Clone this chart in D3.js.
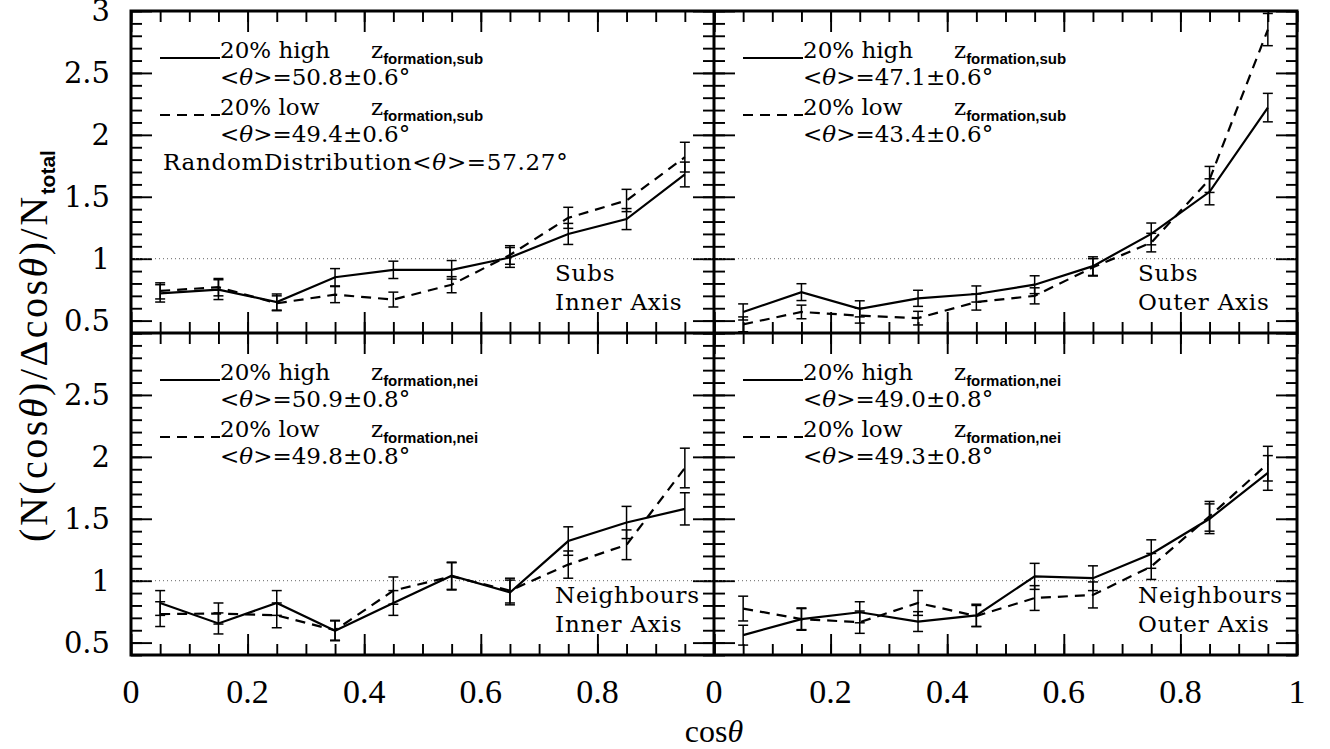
<!DOCTYPE html>
<html>
<head>
<meta charset="utf-8">
<script src="https://cdn.jsdelivr.net/npm/d3@7"></script>
<style>
  body { margin: 0; background: #fff; }
  svg { display: block; }
</style>
</head>
<body>
<svg id="chart" width="1330" height="749"></svg>
<script>
// bin centres in cos(theta)
var cosBins = [0.05, 0.15, 0.25, 0.35, 0.45, 0.55, 0.65, 0.75, 0.85, 0.95];

// subhaloes, inner axis
var subsInnerHigh    = [0.72, 0.75, 0.65, 0.85, 0.91, 0.91, 1.01, 1.20, 1.32, 1.68];
var subsInnerHighErr = [0.07, 0.08, 0.065, 0.07, 0.07, 0.075, 0.08, 0.085, 0.085, 0.10];
var subsInnerLow     = [0.74, 0.77, 0.64, 0.71, 0.67, 0.79, 1.03, 1.33, 1.47, 1.82];
var subsInnerLowErr  = [0.065, 0.07, 0.06, 0.065, 0.06, 0.065, 0.075, 0.085, 0.09, 0.12];

// subhaloes, outer axis
var subsOuterHigh    = [0.57, 0.73, 0.595, 0.68, 0.715, 0.79, 0.94, 1.20, 1.54, 2.22];
var subsOuterHighErr = [0.065, 0.068, 0.065, 0.065, 0.065, 0.072, 0.075, 0.088, 0.105, 0.115];
var subsOuterLow     = [0.47, 0.57, 0.54, 0.52, 0.65, 0.70, 0.93, 1.13, 1.64, 2.85];
var subsOuterLowErr  = [0.06, 0.055, 0.06, 0.055, 0.065, 0.065, 0.07, 0.075, 0.105, 0.13];

// neighbours, inner axis
var neiInnerHigh    = [0.82, 0.655, 0.82, 0.595, 0.82, 1.04, 0.905, 1.32, 1.47, 1.58];
var neiInnerHighErr = [0.10, 0.085, 0.10, 0.08, 0.10, 0.11, 0.10, 0.115, 0.13, 0.13];
var neiInnerLow     = [0.73, 0.735, 0.72, 0.60, 0.92, 1.035, 0.92, 1.13, 1.29, 1.91];
var neiInnerLowErr  = [0.10, 0.085, 0.10, 0.08, 0.11, 0.11, 0.10, 0.11, 0.12, 0.16];

// neighbours, outer axis
var neiOuterHigh    = [0.56, 0.69, 0.745, 0.67, 0.72, 1.035, 1.02, 1.215, 1.50, 1.87];
var neiOuterHighErr = [0.08, 0.09, 0.085, 0.08, 0.09, 0.105, 0.10, 0.115, 0.12, 0.14];
var neiOuterLow     = [0.775, 0.69, 0.665, 0.82, 0.715, 0.86, 0.885, 1.115, 1.52, 1.945];
var neiOuterLowErr  = [0.10, 0.085, 0.09, 0.10, 0.085, 0.10, 0.105, 0.105, 0.12, 0.14];

// legend / annotation text, panel order TL, TR, BL, BR
var highMeans = ['50.8\u00b10.6', '47.1\u00b10.6', '50.9\u00b10.8', '49.0\u00b10.8'];
var lowMeans  = ['49.4\u00b10.6', '43.4\u00b10.6', '49.8\u00b10.8', '49.3\u00b10.8'];
var subLabels = ['formation,sub', 'formation,sub', 'formation,nei', 'formation,nei'];
var tagTop    = ['Subs', 'Subs', 'Neighbours', 'Neighbours'];
var tagBottom = ['Inner Axis', 'Outer Axis', 'Inner Axis', 'Outer Axis'];
var randomMean = '57.27';

var yTickLabelsTop    = [0.5, 1, 1.5, 2, 2.5, 3];
var yTickLabelsBottom = [0.5, 1, 1.5, 2, 2.5];
var xTickLabelsLeft   = [0, 0.2, 0.4, 0.6, 0.8];
var xTickLabelsRight  = [0, 0.2, 0.4, 0.6, 0.8, 1];

var panels = [
	{col: 0, row: 0, high: subsInnerHigh, highErr: subsInnerHighErr, low: subsInnerLow, lowErr: subsInnerLowErr},
	{col: 1, row: 0, high: subsOuterHigh, highErr: subsOuterHighErr, low: subsOuterLow, lowErr: subsOuterLowErr},
	{col: 0, row: 1, high: neiInnerHigh, highErr: neiInnerHighErr, low: neiInnerLow, lowErr: neiInnerLowErr},
	{col: 1, row: 1, high: neiOuterHigh, highErr: neiOuterHighErr, low: neiOuterLow, lowErr: neiOuterLowErr}
];

var frameLeft = 131, frameTop = 11, pw = 583, ph = 322;
var serif = '"DejaVu Serif", serif';
var svg = d3.select('#chart');

panels.forEach(function(p, i) { drawPanel(p, i); });
drawFrame();
drawAxisLabels();

function drawPanel(p, i) {
	var l = frameLeft + p.col * pw, t = frameTop + p.row * ph, b = t + ph, r = l + pw;
	var x = d3.scaleLinear().domain([0, 1]).range([l, r]);
	var y = d3.scaleLinear().domain([0.4, 3]).range([b, t]);
	var g = svg.append('g');

	addTicks(g, x, y, l, r, t, b);

	g.append('line')
		.attr('x1', x(0)).attr('x2', x(1))
		.attr('y1', y(1)).attr('y2', y(1))
		.attr('stroke', '#666').attr('stroke-width', 1)
		.attr('stroke-dasharray', '1,3');

	var series = [
		{v: p.high, e: p.highErr, dash: null},
		{v: p.low, e: p.lowErr, dash: '10,7'}
	];
	var line = d3.line()
		.x(function(d, k) { return x(cosBins[k]); })
		.y(function(d) { return y(d); });

	series.forEach(function(s) {
		var eg = g.append('g').attr('stroke', '#000').attr('stroke-width', 1.5);
		s.v.forEach(function(v, k) {
			var cx = x(cosBins[k]), y0 = y(v - s.e[k]), y1 = y(v + s.e[k]);
			eg.append('line').attr('x1', cx).attr('x2', cx).attr('y1', y0).attr('y2', y1);
			eg.append('line').attr('x1', cx - 5).attr('x2', cx + 5).attr('y1', y0).attr('y2', y0);
			eg.append('line').attr('x1', cx - 5).attr('x2', cx + 5).attr('y1', y1).attr('y2', y1);
		});
		g.append('path')
			.datum(s.v)
			.attr('d', line)
			.attr('fill', 'none')
			.attr('stroke', '#000')
			.attr('stroke-width', 2.2)
			.attr('stroke-dasharray', s.dash);
	});

	// legend
	var lg = g.append('g').style('font-family', serif).style('font-size', '23px');
	lg.append('line').attr('x1', l + 29).attr('x2', l + 89).attr('y1', t + 47).attr('y2', t + 47)
		.attr('stroke', '#000').attr('stroke-width', 2.2);
	lg.append('line').attr('x1', l + 29).attr('x2', l + 89).attr('y1', t + 104).attr('y2', t + 104)
		.attr('stroke', '#000').attr('stroke-width', 2.2).attr('stroke-dasharray', '10,7');
	lg.append('text').attr('x', l + 89).attr('y', t + 47).text('20% high');
	lg.append('text').attr('x', l + 89).attr('y', t + 104).text('20% low');
	[t + 47, t + 104].forEach(function(yy) {
		var zt = lg.append('text').attr('x', l + 240).attr('y', yy);
		zt.append('tspan').text('z');
		zt.append('tspan').attr('dy', 6)
			.style('font-family', '"Liberation Sans", Arial, sans-serif')
			.style('font-weight', 'bold').style('font-size', '15px')
			.text(subLabels[i]);
	});
	meanText(lg, l + 89, t + 74, highMeans[i]);
	meanText(lg, l + 89, t + 131, lowMeans[i]);
	if (i === 0) {
		var rt = lg.append('text').attr('x', l + 32).attr('y', t + 159)
			.style('letter-spacing', '0.7px');
		rt.append('tspan').text('RandomDistribution<');
		rt.append('tspan').style('font-style', 'italic').text('\u03b8');
		rt.append('tspan').text('>=' + randomMean + '\u00b0');
	}

	var tg = g.append('g').style('font-family', serif).style('font-size', '23px')
		.style('letter-spacing', '0.8px');
	tg.append('text').attr('x', l + 424).attr('y', b - 52).text(tagTop[i]);
	tg.append('text').attr('x', l + 424).attr('y', b - 23).text(tagBottom[i]);

	// tick labels
	if (p.col === 0) {
		var yl = p.row === 0 ? yTickLabelsTop : yTickLabelsBottom;
		g.append('g').selectAll('text').data(yl).enter().append('text')
			.attr('x', l - 21).attr('y', function(d) { return y(d); })
			.attr('dy', '0.36em')
			.attr('text-anchor', 'end')
			.style('font-family', serif).style('font-size', '29px')
			.text(function(d) { return String(d); });
	}
	if (p.row === 1) {
		var xl = p.col === 0 ? xTickLabelsLeft : xTickLabelsRight;
		g.append('g').selectAll('text').data(xl).enter().append('text')
			.attr('x', function(d) { return x(d); }).attr('y', b + 48)
			.attr('text-anchor', 'middle')
			.style('font-family', '"Liberation Serif", serif').style('font-size', '34px')
			.text(function(d) { return String(d); });
	}
}

function meanText(g, xx, yy, val) {
	var tx = g.append('text').attr('x', xx).attr('y', yy);
	tx.append('tspan').text('<');
	tx.append('tspan').style('font-style', 'italic').text('\u03b8');
	tx.append('tspan').text('>=' + val + '\u00b0');
}

function addTicks(g, x, y, l, r, t, b) {
	var xMajor = [0, 0.2, 0.4, 0.6, 0.8, 1];
	var xMinor = d3.range(0, 21).map(function(k) { return k * 0.05; });
	var yMajor = [0.5, 1, 1.5, 2, 2.5, 3];
	var yMinor = d3.range(4, 31).map(function(k) { return k / 10; });
	var tk = g.append('g');
	[[xMinor, 11], [xMajor, 21]].forEach(function(s) {
		tk.append('g').attr('transform', 'translate(0,' + b + ')')
			.call(d3.axisBottom(x).tickValues(s[0]).tickSize(-s[1]).tickFormat(''));
		tk.append('g').attr('transform', 'translate(0,' + t + ')')
			.call(d3.axisTop(x).tickValues(s[0]).tickSize(-s[1]).tickFormat(''));
	});
	[[yMinor, 11], [yMajor, 21]].forEach(function(s) {
		tk.append('g').attr('transform', 'translate(' + l + ',0)')
			.call(d3.axisLeft(y).tickValues(s[0]).tickSize(-s[1]).tickFormat(''));
		tk.append('g').attr('transform', 'translate(' + r + ',0)')
			.call(d3.axisRight(y).tickValues(s[0]).tickSize(-s[1]).tickFormat(''));
	});
	tk.selectAll('.domain').remove();
	tk.selectAll('.tick line').attr('stroke', '#000').attr('stroke-width', 1.9);
}

function drawFrame() {
	var f = svg.append('g').attr('fill', 'none').attr('stroke', '#000').attr('stroke-width', 3);
	f.append('rect').attr('x', frameLeft).attr('y', frameTop).attr('width', 2 * pw).attr('height', 2 * ph);
	f.append('line').attr('x1', frameLeft + pw).attr('x2', frameLeft + pw).attr('y1', frameTop).attr('y2', frameTop + 2 * ph);
	f.append('line').attr('x1', frameLeft).attr('x2', frameLeft + 2 * pw).attr('y1', frameTop + ph).attr('y2', frameTop + ph);
}

function drawAxisLabels() {
	var xt = svg.append('text')
		.attr('x', frameLeft + pw).attr('y', 742)
		.attr('text-anchor', 'middle')
		.style('font-family', '"Liberation Serif", serif').style('font-size', '32px');
	xt.append('tspan').text('cos');
	xt.append('tspan').style('font-style', 'italic').text('\u03b8');

	var yt = svg.append('text')
		.attr('transform', 'translate(47,346) rotate(-90)')
		.attr('text-anchor', 'middle')
		.style('font-family', '"Liberation Serif", serif').style('font-size', '40px')
		.style('letter-spacing', '2.5px');
	yt.append('tspan').text('(N(cos');
	yt.append('tspan').style('font-style', 'italic').text('\u03b8');
	yt.append('tspan').text(')/\u0394cos');
	yt.append('tspan').style('font-style', 'italic').text('\u03b8');
	yt.append('tspan').text(')/N');
	yt.append('tspan').attr('dy', 8)
		.style('font-family', '"Liberation Sans", Arial, sans-serif')
		.style('font-weight', 'bold').style('font-size', '21px')
		.style('letter-spacing', '0px')
		.text('total');
}
</script>
</body>
</html>
